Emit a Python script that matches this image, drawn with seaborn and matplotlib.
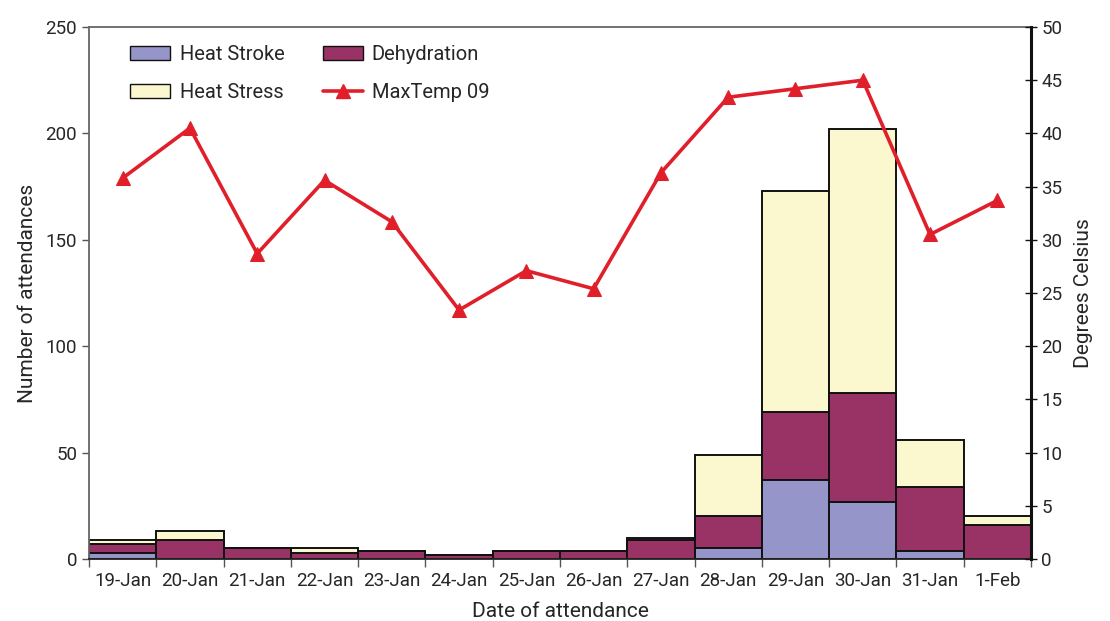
"""Heat-related attendances by day with daily max temperature."""

import matplotlib
matplotlib.use('Agg')
import matplotlib.pyplot as plt
import numpy as np
import pandas as pd
import seaborn as sns
from matplotlib.patches import Patch
from matplotlib.lines import Line2D

dates = ['19-Jan', '20-Jan', '21-Jan', '22-Jan', '23-Jan', '24-Jan', '25-Jan',
         '26-Jan', '27-Jan', '28-Jan', '29-Jan', '30-Jan', '31-Jan', '1-Feb']
heat_stroke = [3, 0, 0, 0, 0, 0, 0, 0, 0, 5, 37, 27, 4, 0]
dehydration = [4, 9, 5, 3, 4, 2, 4, 4, 9, 15, 32, 51, 30, 16]
heat_stress = [2, 4, 0, 2, 0, 0, 0, 0, 1, 29, 104, 124, 22, 4]
max_temp = [35.8, 40.5, 28.7, 35.6, 31.7, 23.4, 27.1, 25.4, 36.3, 43.4,
            44.2, 45.0, 30.5, 33.7]

COL_STROKE = '#9595C9'
COL_DEHYD = '#993366'
COL_STRESS = '#FBF8D0'
COL_LINE = '#E01F2B'
TEXT = '#262626'

sns.set_theme(style='white')
plt.rcParams['font.family'] = ['Roboto', 'DejaVu Sans']
plt.rcParams['text.color'] = TEXT
plt.rcParams['axes.labelcolor'] = TEXT
plt.rcParams['xtick.color'] = TEXT
plt.rcParams['ytick.color'] = TEXT

df = pd.DataFrame({
    'date': dates,
    'stroke': heat_stroke,
    'dehyd': dehydration,
    'stress': heat_stress,
})
df['lvl2'] = df['stroke'] + df['dehyd']
df['lvl3'] = df['lvl2'] + df['stress']

fig = plt.figure(figsize=(11.1, 6.21), dpi=100)
ax = fig.add_axes([0.0802, 0.0998, 0.8486, 0.8567])

# stacked bars drawn as overlaid cumulative totals
for col, colour in [('lvl3', COL_STRESS), ('lvl2', COL_DEHYD), ('stroke', COL_STROKE)]:
    sns.barplot(data=df, x='date', y=col, color=colour, width=1.0,
                saturation=1, edgecolor='#111111', linewidth=1.4, ax=ax)

ax.set_ylim(0, 250)
ax.set_xlim(-0.5, len(dates) - 0.5)
ax.set_yticks(np.arange(0, 251, 50))
ax.set_xticks(np.arange(-0.5, len(dates), 1))
ax.set_xticklabels([])
ax.set_xticks(np.arange(len(dates)), minor=True)
ax.set_xticklabels(dates, minor=True)
ax.tick_params(axis='x', which='major', length=6, width=1, direction='out',
               bottom=True, color='#555555')
ax.tick_params(axis='x', which='minor', length=0, pad=9, labelsize=13.5,
               labelcolor=TEXT)
ax.tick_params(axis='y', length=5, width=1, direction='out', left=True,
               labelsize=13.5, color='#555555', labelcolor=TEXT)
ax.set_xlabel('Date of attendance', fontsize=15, labelpad=9)
ax.set_ylabel('Number of attendances', fontsize=15, labelpad=6)
for side in ['left', 'top', 'bottom']:
    ax.spines[side].set_color('#666666')
    ax.spines[side].set_linewidth(1.3)
ax.spines['bottom'].set_color('#222222')

ax2 = ax.twinx()
sns.lineplot(x=np.arange(len(dates)), y=max_temp, color=COL_LINE, lw=2.6,
             marker='^', markersize=10, markeredgecolor=COL_LINE, ax=ax2)
ax2.set_ylim(0, 50)
ax2.set_yticks(np.arange(0, 51, 5))
ax2.tick_params(axis='y', length=8, width=1, direction='inout', right=True,
                labelsize=13.5, color='#111111', labelcolor=TEXT)
ax2.set_ylabel('Degrees Celsius', fontsize=15, labelpad=8)
ax2.spines['right'].set_color('#111111')
ax2.spines['right'].set_linewidth(2.2)
for side in ['left', 'top', 'bottom']:
    ax2.spines[side].set_visible(False)

handles = [
    Patch(facecolor=COL_STROKE, edgecolor='#111111', label='Heat Stroke'),
    Patch(facecolor=COL_STRESS, edgecolor='#111111', label='Heat Stress'),
    Patch(facecolor=COL_DEHYD, edgecolor='#111111', label='Dehydration'),
    Line2D([], [], color=COL_LINE, lw=2.6, marker='^', markersize=10,
           label='MaxTemp 09'),
]
ax2.legend(handles=handles, ncol=2, frameon=False, fontsize=14.5,
           loc='upper left', bbox_to_anchor=(0.033, 0.985), borderpad=0,
           handlelength=2.0, handleheight=0.65, columnspacing=1.9,
           labelspacing=0.95, handletextpad=0.45)

fig.savefig('out.png', dpi=100)
